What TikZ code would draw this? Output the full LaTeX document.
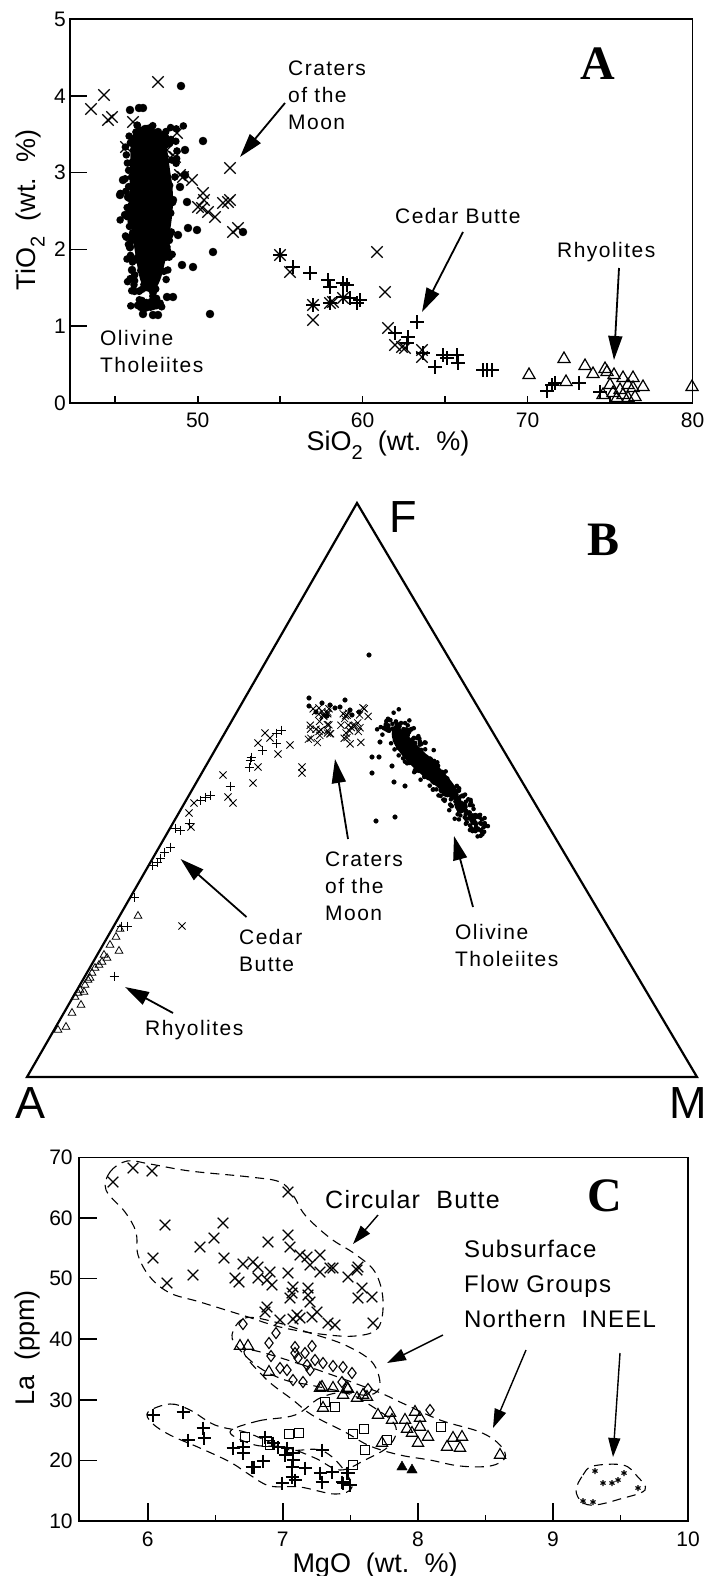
\documentclass[tikz,border=0pt]{standalone}
\usepackage{fontspec}
\setmainfont{Liberation Sans}
\newfontfamily\annfont[LetterSpace=7]{Liberation Sans}
\newfontfamily\cfont[LetterSpace=5]{Liberation Sans}
\newfontfamily\titlefont{Liberation Serif}
\usetikzlibrary{arrows.meta,plotmarks}
\begin{document}
\begin{tikzpicture}[x=1pt,y=-1pt,
  frame/.style={line width=1.8pt},
  tick/.style={line width=1.6pt},
  ticklab/.style={font=\fontsize{21}{21}\selectfont, inner sep=0pt},
  axlab/.style={font=\fontsize{27}{27}\selectfont, inner sep=0pt},
  ann/.style={font=\annfont\fontsize{21}{27}\selectfont, align=left, anchor=west, inner sep=0pt},
  annC/.style={font=\cfont\fontsize{24}{35}\selectfont, align=left, anchor=west, inner sep=0pt},
  ttl/.style={font=\titlefont\bfseries\fontsize{48}{48}\selectfont, inner sep=0pt},
  corner/.style={font=\fontsize{45}{45}\selectfont, inner sep=0pt},
  arrA/.style={line width=1.8pt, -{Triangle[length=24pt,width=14pt]}},
  arrC/.style={line width=1.4pt, -{Triangle[length=19pt,width=12pt]}},
  env/.style={line width=1.1pt, dash pattern=on 9pt off 6pt},
]
\useasboundingbox (0,0) rectangle (714,1576);

% ================= PANEL A =================
\draw[frame] (70,19) rectangle (692.5,403);
\foreach \v/\y in {1/326.2,2/249.4,3/172.6,4/95.8}{\draw[tick] (70,\y) -- (87,\y);}
\foreach \x in {115.25,197.7,280.2,362.6,445.1,527.5,610}{\draw[tick] (\x,403) -- (\x,396);}
\foreach \v/\y in {0/403,1/326.2,2/249.4,3/172.6,4/95.8,5/19}{\node[ticklab] (ya\v) at (60,\y) {\v};}
\foreach \v/\x in {50/197.7,60/362.6,70/527.5,80/692.5}{\node[ticklab] (xa\v) at (\x,420) {\v};}
\node[axlab, rotate=90] (ylabA) at (30,210) {TiO\raisebox{-0.35em}{\fontsize{20}{20}\selectfont 2}\ \ (wt.\ \ \%)};
\node[axlab] (xlabA) at (388,445) {SiO\raisebox{-0.35em}{\fontsize{20}{20}\selectfont 2}\ \ (wt.\ \ \%)};
\node[ttl] (titleA) at (598,64) {A};

% olivine tholeiite dots (dense core)
\fill plot[smooth cycle, tension=0.7] coordinates {(134,132) (150,128) (164,140) (170,170) (173,200) (170,232) (165,262) (158,285) (149,292) (141,282) (136,258) (132,230) (130,200) (130,165)};
\pgfmathsetseed{42}
\foreach \i in {1,...,300}{
  \pgfmathsetmacro{\tq}{rnd}
  \pgfmathsetmacro{\yy}{124+185*\tq}
  \pgfmathsetmacro{\hw}{26-11*\tq*\tq}
  \pgfmathsetmacro{\xx}{152-5*\tq+\hw*(rand+rand)/1.5}
  \fill (\xx,\yy) circle (3.8pt);
}
\fill plot[only marks, mark=*, mark size=4pt] coordinates {(130,110) (139,108) (143,108) (181,86) (145,129) (158,132) (203,141) (165,142) (123,180) (128,197) (133,193) (133,218) (187,202) (197,230) (188,228) (180,187) (173,200) (133,233) (130,247) (132,270) (147,280) (153,292) (167,297) (173,297) (182,265) (193,267) (178,235) (213,252) (210,314) (143,314) (153,315) (158,315) (243,232) (120,195) (125,215) (185,175) (185,150)};

% x marks (Craters of the Moon)
\draw[line width=1.3pt] plot[only marks, mark=x, mark size=8pt] coordinates {(91,109) (104,95) (108,120) (112,117) (133,122) (158,82) (177,133) (126,147) (167,150) (170,158) (175,157) (180,175) (192,180) (183,177) (203,193) (204,200) (198,207) (202,208) (208,212) (215,217) (223,203) (228,202) (230,200) (230,168) (233,232) (238,228) (280,255) (290,272) (313,305) (313,320) (330,303) (333,302) (343,298) (377,252) (385,292) (388,328) (395,345) (402,347) (405,348) (422,350) (422,357)};
% plus marks (Cedar Butte)
\draw[line width=1.3pt] plot[only marks, mark=+, mark size=7pt] coordinates {(280,255) (293,267) (310,273) (328,280) (330,287) (347,285) (343,297) (350,298) (357,303) (343,283) (417,322) (395,333) (408,337) (407,343) (423,353) (435,367) (443,355) (447,358) (457,355) (458,363) (483,370) (487,370) (492,370) (547,391) (552,385) (555,383) (579,383) (600,392) (360,300) (313,305) (330,303)};
% triangles (Rhyolites)
\draw[line width=1.2pt] plot[only marks, mark=triangle, mark size=7pt] coordinates {(529,375) (564,359) (566,382) (585,366) (593,374) (605,369) (607,372) (614,375) (623,378) (633,378) (643,387) (628,385) (610,385) (620,390) (633,388) (603,395) (613,393) (623,395) (635,397) (692,387) (617,398) (628,398)};

\node[ann] (lcmA) at (288,95) {Craters\\of the\\Moon};
\node[ann] (lcbA) at (395,216) {Cedar Butte};
\node[ann] (lrhA) at (557,252) {Rhyolites};
\node[ann] (lotA) at (100,351) {Olivine\\Tholeiites};
\coordinate (tcmA) at (285,103); \coordinate (hcmA) at (240,157);
\coordinate (tcbA) at (463,232); \coordinate (hcbA) at (422,312);
\coordinate (trhA) at (619,268); \coordinate (hrhA) at (614,360);
\draw[arrA] (tcmA) -- (hcmA);
\draw[arrA] (tcbA) -- (hcbA);
\draw[arrA] (trhA) -- (hrhA);

% ================= PANEL B =================
\coordinate (Fv) at (357,503);
\coordinate (Av) at (27,1077);
\coordinate (Mv) at (697,1077);
\draw[line width=2.2pt, line join=miter] (Fv) -- (Mv) -- (Av) -- cycle;
\node[corner] (labF) at (403,517) {F};
\node[corner] (labA) at (31,1103) {A};
\node[corner] (labM) at (688,1103) {M};
\node[ttl] (titleB) at (603,540) {B};

% olivine tholeiites cluster
\fill plot[smooth cycle, tension=0.7] coordinates {(394,728) (402,730) (418,746) (440,768) (456,788) (458,798) (452,799) (436,786) (414,768) (398,750) (392,737)};
\pgfmathsetseed{7}
\foreach \i in {1,...,330}{
  \pgfmathsetmacro{\tq}{rnd}
  \pgfmathsetmacro{\wq}{(rand+rand)/1.5*(15-6*\tq)}
  \pgfmathsetmacro{\xx}{386+98*\tq+0.72*\wq}
  \pgfmathsetmacro{\yy}{720+113*\tq-0.69*\wq}
  \fill (\xx,\yy) circle (2.3pt);
}
\fill plot[only marks, mark=*, mark size=2.3pt] coordinates {(369,655) (309,698) (309,706) (372,757) (379,757) (372,773) (392,766) (394,782) (405,786) (376,821) (395,817) (322,703) (330,705) (340,707) (350,710) (359,712) (345,700) (335,708) (316,712) (327,716) (352,715) (384,728) (380,742)};
% craters of the moon x
\pgfmathsetseed{11}
\foreach \i in {1,...,50}{
  \pgfmathsetmacro{\xx}{308+64*rnd}
  \pgfmathsetmacro{\yy}{706+40*rnd}
  \draw[line width=0.8pt] plot[only marks, mark=x, mark size=5pt] coordinates {(\xx,\yy)};
}
\draw[line width=0.8pt] plot[only marks, mark=x, mark size=5pt] coordinates {(258,743) (290,745) (278,754) (258,767) (302,767) (302,773) (223,775) (253,783) (228,797) (194,803) (233,803) (191,827) (182,926) (189,813) (270,738) (265,733)};
\draw[line width=0.8pt] plot[only marks, mark=+, mark size=4.5pt] coordinates {(276,733) (281,730) (276,743) (251,757) (249,767) (230,786) (205,797) (210,795) (200,800) (175,828) (189,823) (164,852) (157,862) (170,847) (160,858) (134,897) (121,926) (127,926) (114,976) (180,830) (152,865) (250,760) (262,750)};
\draw[line width=0.8pt] plot[only marks, mark=triangle, mark size=4.5pt] coordinates {(138,916) (116,937) (119,951) (104,955) (99,965) (95,968) (92,973) (85,985) (80,990) (78,993) (75,997) (81,1005) (72,1013) (66,1027) (58,1030) (110,945) (102,962) (88,980) (84,992) (120,929) (107,958) (90,978)};

\node[ann] (lcmB) at (325,886) {Craters\\of the\\Moon};
\node[ann] (lotB) at (455,945) {Olivine\\Tholeiites};
\node[ann] (lcbB) at (239,950) {Cedar\\Butte};
\node[ann] (lrhB) at (145,1030) {Rhyolites};
\coordinate (tcmB) at (348,839); \coordinate (hcmB) at (335,759);
\coordinate (totB) at (473,907); \coordinate (hotB) at (454,836);
\coordinate (tcbB) at (246.5,917); \coordinate (hcbB) at (180.6,859);
\coordinate (trhB) at (173,1013); \coordinate (hrhB) at (125,987);
\draw[arrA] (tcmB) -- (hcmB);
\draw[arrA] (totB) -- (hotB);
\draw[arrA] (tcbB) -- (hcbB);
\draw[arrA] (trhB) -- (hrhB);

% ================= PANEL C =================
\draw[frame] (79.3,1157.4) rectangle (688.1,1521);
\foreach \y in {1460.4,1399.8,1339.2,1278.6,1218}{\draw[tick] (79.3,\y) -- (97,\y);}
\foreach \x in {147.7,282.8,417.9,553}{\draw[tick] (\x,1521) -- (\x,1503);}
\foreach \x in {215.3,350.4,485.5,620.6}{\draw[tick] (\x,1521) -- (\x,1515);}
\foreach \v/\y in {10/1521,20/1460.4,30/1399.8,40/1339.2,50/1278.6,60/1218,70/1157.4}{\node[ticklab] (yc\v) at (61,\y) {\v};}
\foreach \v/\x in {6/147.7,7/282.8,8/417.9,9/553,10/688.1}{\node[ticklab] (xc\v) at (\x,1539) {\v};}
\node[axlab, rotate=90] (ylabC) at (28,1348) {La\ \ (ppm)};
\node[axlab] (xlabC) at (375,1565) {MgO\ \ (wt.\ \ \%)};
\node[ttl] (titleC) at (605,1196) {C};

% envelopes
\draw[env] plot[smooth cycle, tension=0.6] coordinates {(106,1190) (110,1172) (127,1161) (150,1164) (190,1171) (250,1177) (280,1182) (293,1195) (305,1215) (330,1238) (355,1254) (375,1272) (383,1300) (378,1328) (355,1336) (320,1334) (280,1327) (245,1316) (200,1302) (170,1293) (150,1277) (138,1255) (136,1232) (125,1212)};
\draw[env] plot[smooth cycle, tension=0.6] coordinates {(232,1335) (245,1318) (275,1322) (310,1333) (345,1345) (372,1362) (380,1385) (370,1395) (345,1392) (310,1385) (285,1380) (260,1368) (240,1350)};
\draw[env] plot[smooth cycle, tension=0.6] coordinates {(245,1350) (300,1364) (373,1390) (400,1402) (440,1420) (480,1432) (500,1445) (505,1458) (490,1466) (460,1466) (430,1460) (400,1455) (370,1446) (345,1432) (312,1415) (293,1400) (265,1378)};
\draw[env] plot[smooth cycle, tension=0.6] coordinates {(230,1432) (258,1421) (295,1415) (320,1398) (345,1393) (370,1405) (395,1425) (390,1445) (365,1460) (340,1470) (315,1458) (285,1447) (255,1445)};
\draw[env] plot[smooth cycle, tension=0.6] coordinates {(148,1412) (170,1404) (190,1410) (215,1425) (245,1432) (265,1440) (290,1450) (320,1450) (340,1465) (352,1487) (335,1494) (300,1487) (270,1486) (250,1475) (230,1462) (200,1448) (170,1435) (152,1423)};
\draw[env] plot[smooth cycle, tension=0.6] coordinates {(576,1490) (583,1475) (593,1466) (623,1465) (637,1476) (645,1490) (620,1499) (595,1505) (582,1502)};

% data C
\draw[line width=1.3pt] plot[only marks, mark=x, mark size=7.5pt] coordinates {(113,1182) (133,1168) (152,1171) (165,1225) (153,1258) (167,1283) (193,1275) (200,1247) (214,1238) (223,1223) (224,1258) (235,1278) (239,1282) (243,1264) (253,1262) (258,1267) (258,1278) (267,1280) (270,1272) (272,1285) (268,1242) (267,1307) (265,1312) (280,1320) (288,1192) (288,1235) (290,1247) (288,1273) (293,1287) (292,1293) (290,1298) (293,1319) (300,1318) (297,1315) (300,1255) (307,1257) (310,1265) (308,1288) (308,1295) (310,1302) (317,1312) (312,1317) (320,1255) (320,1272) (330,1268) (333,1268) (328,1323) (335,1325) (348,1277) (357,1270) (358,1298) (358,1267) (362,1288) (372,1297) (373,1323)};
\draw[line width=1.1pt] plot[only marks, mark=diamond, mark size=5.5pt] coordinates {(243,1324) (276,1333) (269,1343) (271,1356) (295,1347) (312,1346) (305,1353) (298,1358) (315,1360) (323,1363) (333,1366) (343,1367) (352,1373) (310,1370) (287,1370) (280,1368) (293,1380) (303,1382) (342,1382) (307,1365) (295,1353) (368,1389) (430,1410)};
\draw[line width=1.1pt] plot[only marks, mark=triangle, mark size=6.5pt] coordinates {(240,1346) (248,1346) (269,1372) (320,1388) (333,1388) (322,1387) (323,1408) (343,1395) (348,1389) (357,1398) (347,1388) (363,1395) (367,1397) (378,1415) (390,1413) (392,1420) (405,1420) (415,1412) (420,1418) (420,1427) (407,1429) (412,1433) (418,1443) (428,1437) (382,1443) (447,1447) (453,1438) (462,1437) (460,1448) (500,1455)};
\fill plot[only marks, mark=triangle*, mark size=6pt] coordinates {(402,1467) (412,1470)};
\draw[line width=1.1pt] plot[only marks, mark=square, mark size=4.5pt] coordinates {(245,1437) (267,1442) (270,1445) (289,1434) (299,1433) (325,1402) (335,1407) (353,1434) (353,1465) (364,1429) (387,1440) (365,1450) (441,1427)};
\draw[line width=1.3pt] plot[only marks, mark=+, mark size=6.5pt] coordinates {(153,1415) (183,1412) (203,1428) (204,1438) (188,1440) (233,1448) (243,1447) (243,1453) (252,1467) (254,1467) (263,1461) (265,1437) (273,1443) (278,1447) (285,1455) (287,1448) (293,1453) (293,1460) (292,1467) (292,1477) (295,1480) (282,1483) (305,1468) (322,1450) (320,1473) (322,1482) (332,1472) (342,1482) (348,1473) (350,1485) (347,1473) (343,1483)};
\draw[line width=1.1pt] plot[only marks, mark=asterisk, mark size=3pt] coordinates {(595,1471) (603,1483) (612,1483) (618,1480) (624,1473) (638,1488) (583,1501) (593,1502)};

\node[annC, font=\cfont\fontsize{25}{30}\selectfont] (lcbC) at (325,1200) {Circular\ \ Butte};
\node[annC] (lsfC) at (464,1284) {Subsurface\\Flow Groups\\Northern\ \ INEEL};
\coordinate (tc1) at (378,1215); \coordinate (hc1) at (353,1244);
\coordinate (tc2) at (443,1335); \coordinate (hc2) at (387,1363);
\coordinate (tc3) at (526,1350); \coordinate (hc3) at (493,1428);
\coordinate (tc4) at (620,1353); \coordinate (hc4) at (613,1457);
\draw[arrC] (tc1) -- (hc1);
\draw[arrC] (tc2) -- (hc2);
\draw[arrC] (tc3) -- (hc3);
\draw[arrC] (tc4) -- (hc4);
\end{tikzpicture}
\end{document}
